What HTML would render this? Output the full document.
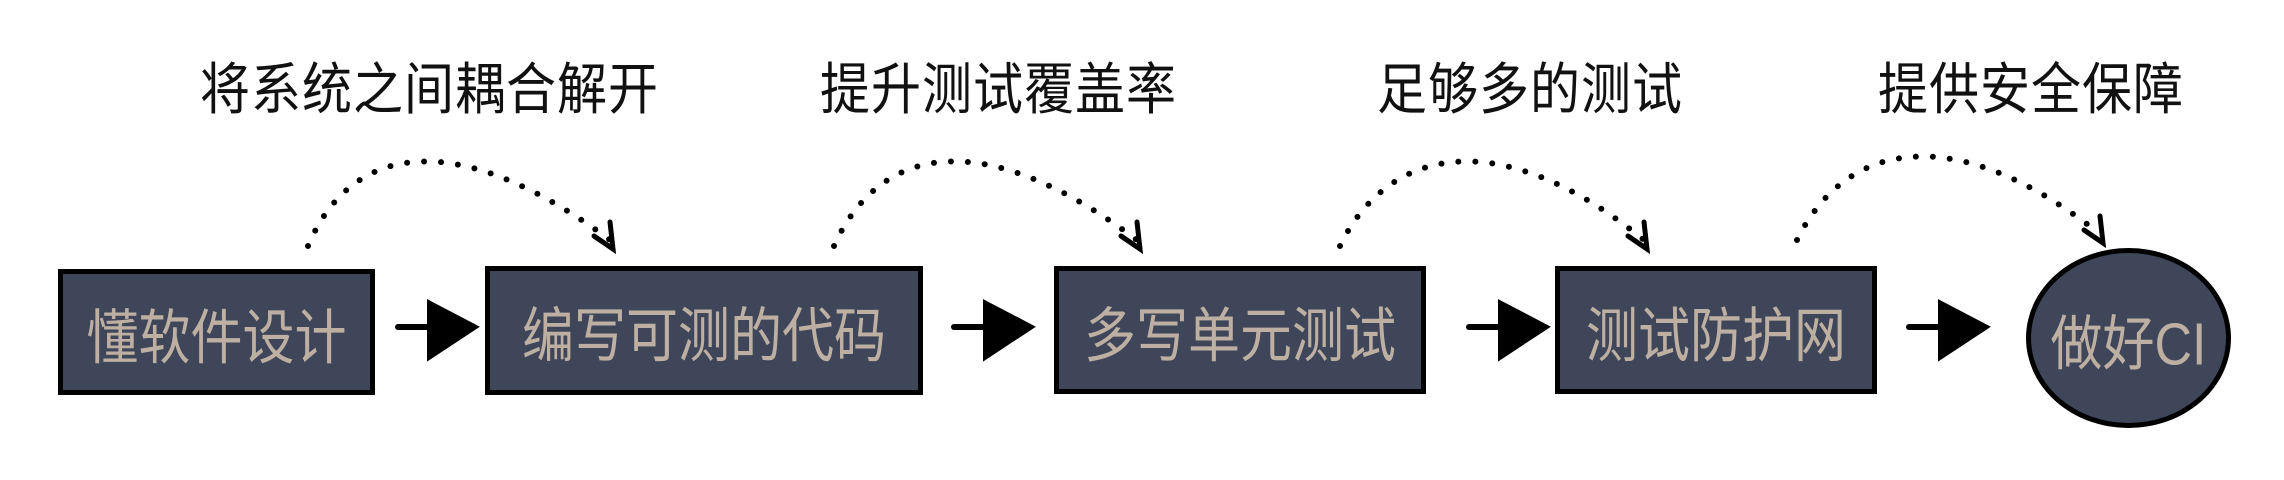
<!DOCTYPE html>
<html><head><meta charset="utf-8"><style>
html,body{margin:0;padding:0;background:#fff;}
body{width:2284px;height:480px;overflow:hidden;position:relative;font-family:"Liberation Sans","Noto Sans CJK SC",sans-serif;}
.lbl{position:absolute;top:60px;font-size:50px;line-height:60px;color:#111;white-space:nowrap;letter-spacing:1px;transform:scaleY(1.12);transform-origin:left center;}
.box{position:absolute;background:#3f465a;border:5px solid #000;box-sizing:border-box;color:#bdb0a2;font-size:52px;display:flex;align-items:center;justify-content:center;}
.box span{display:inline-block;transform:scaleY(1.15);}
</style></head><body>
<div class="lbl" style="left:200px">将系统之间耦合解开</div>
<div class="lbl" style="left:820px">提升测试覆盖率</div>
<div class="lbl" style="left:1377px">足够多的测试</div>
<div class="lbl" style="left:1878px">提供安全保障</div>

<div class="box" style="left:58px;top:269px;width:317px;height:126px"><span>懂软件设计</span></div>
<div class="box" style="left:485px;top:266px;width:438px;height:129px"><span>编写可测的代码</span></div>
<div class="box" style="left:1054px;top:266px;width:372px;height:128px"><span>多写单元测试</span></div>
<div class="box" style="left:1555px;top:266px;width:322px;height:128px"><span>测试防护网</span></div>
<div class="box" style="left:2026px;top:248px;width:205px;height:180px;border-radius:50%"><span>做好CI</span></div>

<svg width="2284" height="480" style="position:absolute;left:0;top:0" xmlns="http://www.w3.org/2000/svg">
<g fill="none" stroke="#000" stroke-width="6" stroke-linecap="round" stroke-dasharray="0 17">
<path d="M308,246 C348,150 448,120 610,240"/>
<path d="M834,246 C877,150 977,120 1137,240"/>
<path d="M1340,246 C1386,150 1496,120 1644,240"/>
<path d="M1797,240 C1846,140 1956,120 2100,234"/>
</g>
<g fill="none" stroke="#000" stroke-width="5" stroke-linecap="round">
<path d="M594,236 L613,249 L610,222"/>
<path d="M1121,236 L1140,249 L1137,222"/>
<path d="M1628,236 L1647,249 L1644,222"/>
<path d="M2084,230 L2103,243 L2100,216"/>
</g>
<g fill="#000" stroke="#000" stroke-width="6" stroke-linecap="round">
<line x1="398" y1="327" x2="438" y2="327"/><polygon points="430,304 474,327 430,356"/>
<line x1="954" y1="327" x2="994" y2="327"/><polygon points="986,304 1030,327 986,356"/>
<line x1="1469" y1="327" x2="1509" y2="327"/><polygon points="1501,304 1545,327 1501,356"/>
<line x1="1909" y1="327" x2="1949" y2="327"/><polygon points="1941,304 1985,327 1941,356"/>
</g>
</svg>
</body></html>
